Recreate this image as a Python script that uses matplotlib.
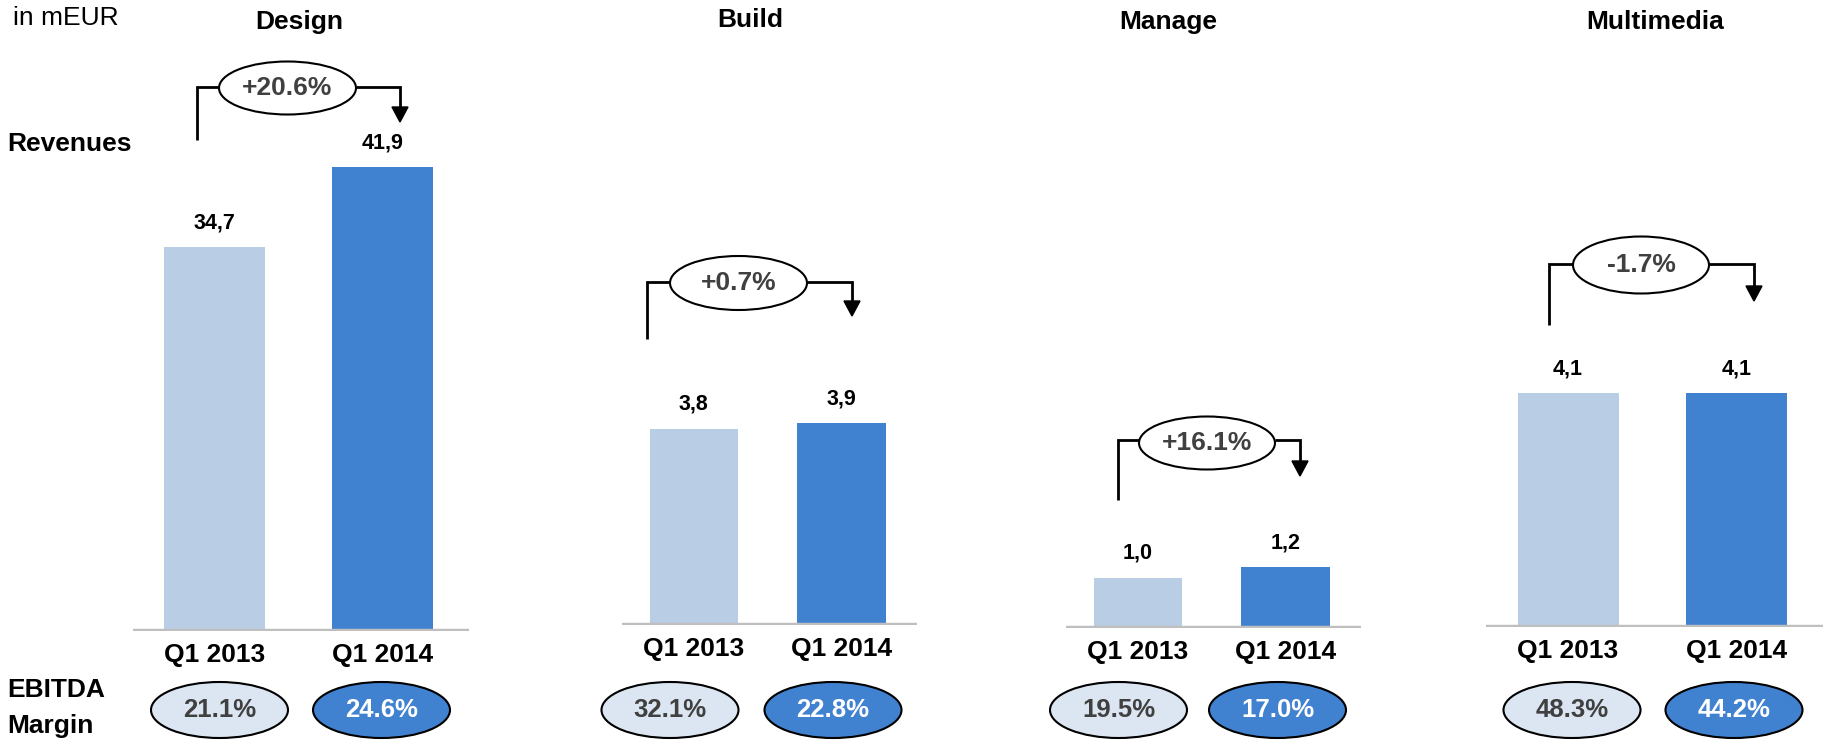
import matplotlib
matplotlib.use("Agg")
import matplotlib.pyplot as plt
from matplotlib.patches import Ellipse, Polygon

# ---------------- data ----------------
segments = ["Design", "Build", "Manage", "Multimedia"]
periods = ["Q1 2013", "Q1 2014"]
rev_2013 = [34.7, 3.8, 1.0, 4.1]
rev_2014 = [41.9, 3.9, 1.2, 4.1]
growth_labels = ["+20.6%", "+0.7%", "+16.1%", "-1.7%"]
margin_2013 = ["21.1%", "32.1%", "19.5%", "48.3%"]
margin_2014 = ["24.6%", "22.8%", "17.0%", "44.2%"]

# ---------------- layout (pixels, y from top) ----------------
W, H = 1834, 740
panel_x0 = [133, 622, 1066, 1486]
panel_x1 = [469, 917, 1361, 1823]
panel_base = [631, 625, 628, 627]
panel_ppu = [11.07, 51.7, 50.5, 57.0]     # pixels per mEUR (each panel own scale)
axes_top = 20
title_pos = [(299, 22), (750, 20), (1168, 22), (1655, 22)]
# bracket: left x, left bottom y, horizontal y, right x, arrow tip y, ellipse centre (x, y), ellipse size
brackets = [
    dict(xl=197, yb=140, yh=87, xr=400, tip=122, ex=287.5, ey=88, ew=137, eh=53),
    dict(xl=647, yb=339, yh=282, xr=852, tip=316, ex=738.5, ey=283, ew=137, eh=54),
    dict(xl=1118, yb=500, yh=440, xr=1300, tip=476, ex=1207, ey=443, ew=136, eh=53),
    dict(xl=1549, yb=325, yh=264, xr=1754, tip=301, ex=1641, ey=265, ew=136, eh=57),
]
margin_cx = [(219.5, 381.5), (670, 833), (1118.5, 1277.5), (1572, 1734)]
margin_cy, margin_w, margin_h = 710, 137, 56

light = "#b9cde5"
dark = "#4182d0"
light_fill = "#dce6f2"
grey_txt = "#404040"
FONT = ["Liberation Sans", "Arial", "DejaVu Sans"]
NARROW = ["Liberation Sans Narrow", "Liberation Sans", "DejaVu Sans"]

plt.rcParams["font.family"] = FONT

fig = plt.figure(figsize=(W / 100, H / 100), dpi=100)

for i, seg in enumerate(segments):
    x0, x1, base = panel_x0[i], panel_x1[i], panel_base[i]
    ax = fig.add_axes([x0 / W, (H - base) / H, (x1 - x0) / W, (base - axes_top) / H])
    vals = [rev_2013[i], rev_2014[i]]
    ax.bar([0, 1], vals, width=0.6, color=[light, dark], zorder=2)
    ax.set_xlim(-0.487, 1.513)
    ax.set_ylim(0, (base - axes_top) / panel_ppu[i])
    ax.axhline(0, color="#bfbfbf", lw=3.2, zorder=3)
    ax.axis("off")
    for xi, v in enumerate(vals):
        ax.annotate(f"{v:.1f}".replace(".", ","), (xi, v), xytext=(0, 17.5),
                    textcoords="offset points", ha="center", va="center",
                    fontsize=15.5, fontweight="bold", color="black")
        ax.annotate(periods[xi], (xi, 0), xytext=(0, -17.5),
                    textcoords="offset points", ha="center", va="center",
                    fontsize=19, fontweight="bold", color="black",
                    annotation_clip=False)

# overlay in pixel coordinates
ov = fig.add_axes([0, 0, 1, 1], zorder=10)
ov.set_xlim(0, W)
ov.set_ylim(H, 0)
ov.axis("off")
ov.patch.set_alpha(0)

ov.text(13, 18, "in mEUR", fontsize=19, ha="left", va="center", color="black")
ov.text(7, 144, "Revenues", fontsize=19, fontweight="bold", ha="left", va="center")
ov.text(7, 690, "EBITDA", fontsize=19, fontweight="bold", ha="left", va="center")
ov.text(7, 726, "Margin", fontsize=19, fontweight="bold", ha="left", va="center")

for i, seg in enumerate(segments):
    tx, ty = title_pos[i]
    fam = NARROW if seg == "Manage" else FONT
    ov.text(tx, ty, seg, fontsize=19, fontweight="bold", ha="center", va="center",
            family=fam)

    b = brackets[i]
    el = b["ex"] - b["ew"] / 2
    er = b["ex"] + b["ew"] / 2
    ov.plot([b["xl"], b["xl"], el], [b["yb"], b["yh"], b["yh"]], color="black",
            lw=2, solid_joinstyle="miter", solid_capstyle="butt")
    ov.plot([er, b["xr"], b["xr"]], [b["yh"], b["yh"], b["tip"] - 14], color="black",
            lw=2, solid_joinstyle="miter", solid_capstyle="butt")
    ov.add_patch(Polygon([(b["xr"] - 8, b["tip"] - 15), (b["xr"] + 8, b["tip"] - 15),
                          (b["xr"], b["tip"])], closed=True, color="black"))
    ov.add_patch(Ellipse((b["ex"], b["ey"]), b["ew"], b["eh"], facecolor="white",
                         edgecolor="black", lw=1.5))
    ov.text(b["ex"], b["ey"], growth_labels[i], fontsize=19, fontweight="bold",
            color=grey_txt, ha="center", va="center")

    for k, (lab, fc, tc) in enumerate([(margin_2013[i], light_fill, grey_txt),
                                       (margin_2014[i], dark, "white")]):
        cx = margin_cx[i][k]
        ov.add_patch(Ellipse((cx, margin_cy), margin_w, margin_h, facecolor=fc,
                             edgecolor="black", lw=1.5))
        ov.text(cx, margin_cy, lab, fontsize=18.5, fontweight="bold", color=tc,
                ha="center", va="center")

fig.savefig("out.png", dpi=100)
